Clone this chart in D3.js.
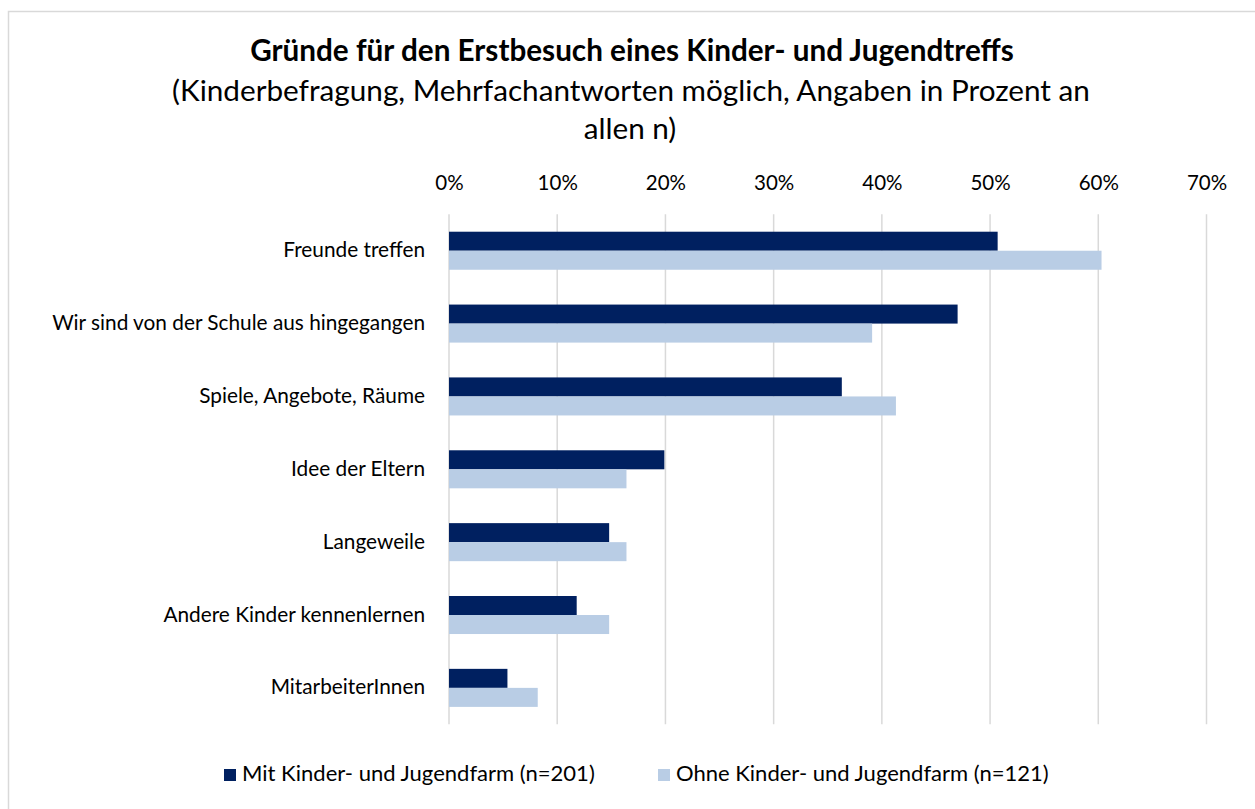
<!DOCTYPE html>
<html>
<head>
<meta charset="utf-8">
<script src="https://cdn.jsdelivr.net/npm/d3@7"></script>
<style>
  html, body { margin: 0; padding: 0; background: #fff; }
  svg { display: block; font-family: Lato, "Open Sans", "Noto Sans", sans-serif; }
</style>
</head>
<body>
<svg id="chart" width="1255" height="809"></svg>
<script>
const categories = [
  "Freunde treffen",
  "Wir sind von der Schule aus hingegangen",
  "Spiele, Angebote, Räume",
  "Idee der Eltern",
  "Langeweile",
  "Andere Kinder kennenlernen",
  "MitarbeiterInnen"
];
const mitValues  = [50.7, 47.0, 36.3, 19.9, 14.8, 11.8, 5.4];
const ohneValues = [60.3, 39.1, 41.3, 16.4, 16.4, 14.8, 8.2];
const seriesNames = ["Mit Kinder- und Jugendfarm (n=201)", "Ohne Kinder- und Jugendfarm (n=121)"];
const tickValues = [0, 10, 20, 30, 40, 50, 60, 70];
const tickLabels = ["0%", "10%", "20%", "30%", "40%", "50%", "60%", "70%"];
const titleText = "Gründe für den Erstbesuch eines Kinder- und Jugendtreffs";
const subtitleLines = ["(Kinderbefragung, Mehrfachantworten möglich, Angaben in Prozent an", "allen n)"];

const colors = ["#002060", "#B9CDE5"];
const svg = d3.select("#chart");

// fit text to a target width by adjusting font size
function fit(sel, target) {
  const base = parseFloat(sel.attr("font-size"));
  const w = sel.node().getComputedTextLength();
  sel.attr("font-size", (base * target / w).toFixed(2));
}

svg.append("rect").attr("width", 1255).attr("height", 809).attr("fill", "#fff");
svg.append("rect").attr("x", 8.5).attr("y", 11.5).attr("width", 1400).attr("height", 1000)
  .attr("fill", "none").attr("stroke", "#D9D9D9").attr("stroke-width", 1.5);

// Titles
const t = svg.append("text").attr("x", 632).attr("y", 61).attr("text-anchor", "middle")
  .attr("font-weight", "bold").attr("font-size", 24).attr("fill", "#000").text(titleText);
fit(t, 764);
const s1 = svg.append("text").attr("x", 631).attr("y", 101).attr("text-anchor", "middle")
  .attr("font-size", 24).attr("fill", "#000").text(subtitleLines[0]);
fit(s1, 918);
const subSize = s1.attr("font-size");
svg.append("text").attr("x", 630).attr("y", 139).attr("text-anchor", "middle")
  .attr("font-size", subSize).attr("fill", "#000").text(subtitleLines[1]);

// Scales
const x = d3.scaleLinear().domain([0, 70]).range([449, 1206.5]);
const y = d3.scaleBand().domain(categories).range([214.3, 724.3]).paddingInner(0.478).paddingOuter(0.239);

// Grid
svg.append("g").selectAll("line").data(tickValues).join("line")
  .attr("x1", d => x(d)).attr("x2", d => x(d))
  .attr("y1", 214.3).attr("y2", 724.3)
  .attr("stroke", "#D9D9D9").attr("stroke-width", 1.5);

// Top axis labels
const axis = d3.axisTop(x).tickValues(tickValues).tickSize(0)
  .tickFormat((d, i) => tickLabels[i]);
const ax = svg.append("g").attr("transform", "translate(0,193)").call(axis);
ax.select(".domain").remove();
ax.selectAll("text").attr("dy", 0).attr("font-size", 20.5).attr("fill", "#000")
  .attr("font-family", 'Lato, "Open Sans", "Noto Sans", sans-serif');

// Bars
const data = categories.map((c, i) => ({ c, v: [mitValues[i], ohneValues[i]] }));
const sub = d3.scaleBand().domain([0, 1]).range([0, y.bandwidth()]);
const g = svg.append("g");
data.forEach(d => {
  d.v.forEach((v, k) => {
    g.append("rect")
      .attr("x", x(0)).attr("y", y(d.c) + sub(k))
      .attr("width", x(v) - x(0)).attr("height", sub.bandwidth())
      .attr("fill", colors[k]);
  });
});

// Category labels
const labels = svg.append("g").selectAll("text").data(categories).join("text")
  .attr("x", 425).attr("y", d => y(d) + y.bandwidth() / 2 + 6.5)
  .attr("text-anchor", "end").attr("font-size", 19).attr("fill", "#000").text(d => d);
{
  const longest = labels.filter(d => d === categories[1]);
  fit(longest, 373);
  labels.attr("font-size", longest.attr("font-size"));
}

// Legend
const legendX = [224, 658];
const legendW = [353, 373];
seriesNames.forEach((n, k) => {
  svg.append("rect").attr("x", legendX[k]).attr("y", 769).attr("width", 12).attr("height", 12)
    .attr("fill", colors[k]);
  const lt = svg.append("text").attr("x", legendX[k] + 18).attr("y", 781)
    .attr("font-size", 19).attr("fill", "#000").text(n);
  fit(lt, legendW[k]);
});
</script>
</body>
</html>
